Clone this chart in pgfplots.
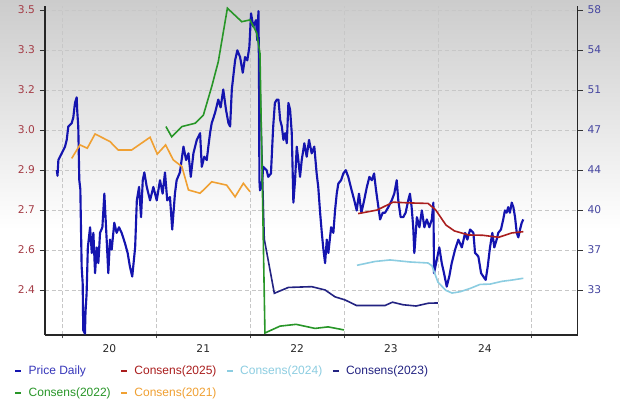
\documentclass[border=0pt]{standalone}
\usepackage{fontspec}
\setmainfont{Liberation Sans}
\newfontfamily\tickfont{DejaVu Sans}
\usepackage{pgfplots}
\pgfplotsset{compat=1.18}
\usetikzlibrary{backgrounds}
\definecolor{pricecol}{RGB}{20,20,175}
\definecolor{cA}{RGB}{170,30,30}
\definecolor{cB}{RGB}{140,205,225}
\definecolor{cC}{RGB}{35,35,130}
\definecolor{cD}{RGB}{40,150,40}
\definecolor{cE}{RGB}{240,160,50}
\definecolor{lefttick}{RGB}{165,60,70}
\definecolor{righttick}{RGB}{70,70,160}
\definecolor{xtickc}{RGB}{40,40,40}
\begin{document}
\begin{tikzpicture}
\begin{axis}[
  name=price,
  scale only axis, width=399.4pt, height=246.75pt,
  xmin=2019.8135, xmax=2025.4875,
  ymin=28.982, ymax=58.357,
  axis x line*=bottom, axis y line*=right,
  axis line style={line width=1.1pt, color=black!85},
  xtick={2020.5,2021.5,2022.5,2023.5,2024.5},
  xticklabels={20,21,22,23,24},
  minor xtick={2020,2021,2022,2023,2024,2025},
  xminorgrids,
  major x tick style={draw=none},
  minor x tick style={black!70, line width=0.6pt},
  ytick={33,36.5714,40.1429,43.7143,47.2857,50.8571,54.4286,58},
  yticklabels={33,37,40,44,47,51,54,58},
  minor y tick num=4,
  ymajorgrids,
  grid style={densely dashed, black!22, line width=0.4pt},
  minor grid style={densely dashed, black!22, line width=0.4pt},
  tick align=outside,
  major tick length=4pt, minor tick length=2.5pt,
  y tick style={black!80, line width=0.6pt},
  x tick label style={font=\tickfont\fontsize{8}{9}\selectfont, text=xtickc},
  y tick label style={font=\tickfont\fontsize{8}{9}\selectfont, text=righttick},
]
\addplot[pricecol, line width=1.6pt, line join=round] coordinates {
(2019.939,43.7) (2019.947,43.2) (2019.956,44.6) (2019.992,45.2) (2020.027,45.8)
(2020.045,46.4) (2020.062,47.6) (2020.098,47.9) (2020.115,48.4) (2020.133,49.7)
(2020.151,50.2) (2020.157,49.0) (2020.168,47.6) (2020.179,42.8) (2020.190,42.0)
(2020.204,35.1) (2020.215,33.6) (2020.221,29.4) (2020.239,29.1) (2020.245,31.0)
(2020.257,32.7) (2020.270,36.8) (2020.294,38.6) (2020.312,36.3) (2020.329,38.1)
(2020.347,34.5) (2020.365,36.8) (2020.382,35.4) (2020.400,38.1) (2020.425,38.6)
(2020.446,41.6) (2020.464,38.6) (2020.488,34.5) (2020.506,37.5) (2020.524,36.6)
(2020.552,39.0) (2020.577,38.1) (2020.602,38.6) (2020.630,38.1) (2020.665,37.2)
(2020.694,36.3) (2020.718,35.1) (2020.743,34.2) (2020.774,36.8) (2020.792,41.0)
(2020.816,42.2) (2020.837,39.5) (2020.855,42.8) (2020.872,43.5) (2020.898,42.2)
(2020.933,41.0) (2020.968,42.2) (2021.004,41.0) (2021.039,42.8) (2021.067,41.6)
(2021.092,43.5) (2021.116,41.0) (2021.145,41.3) (2021.169,38.4) (2021.198,41.6)
(2021.216,42.8) (2021.251,43.5) (2021.289,45.8) (2021.317,44.6) (2021.342,45.2)
(2021.367,43.1) (2021.395,45.2) (2021.431,46.4) (2021.466,47.0) (2021.484,44.0)
(2021.511,44.9) (2021.537,44.6) (2021.554,45.8) (2021.572,47.0) (2021.590,47.9)
(2021.625,48.8) (2021.660,50.0) (2021.685,49.3) (2021.713,50.9) (2021.742,49.1)
(2021.768,47.9) (2021.786,47.6) (2021.804,50.9) (2021.839,53.5) (2021.863,54.4)
(2021.892,53.8) (2021.921,52.4) (2021.945,53.8) (2021.969,53.5) (2021.991,54.7)
(2022.009,57.7) (2022.033,56.5) (2022.062,57.1) (2022.075,55.3) (2022.088,57.9)
(2022.094,52.0) (2022.098,42.8) (2022.104,41.9) (2022.122,42.2) (2022.139,44.0)
(2022.175,43.7) (2022.192,43.1) (2022.221,43.4) (2022.245,47.6) (2022.263,49.7)
(2022.284,50.0) (2022.301,50.0) (2022.319,48.2) (2022.337,47.6) (2022.354,46.4)
(2022.372,47.0) (2022.390,46.1) (2022.407,49.7) (2022.425,49.1) (2022.443,47.0)
(2022.460,40.8) (2022.478,42.8) (2022.496,45.8) (2022.513,44.6) (2022.531,43.1)
(2022.549,44.6) (2022.577,46.1) (2022.602,44.9) (2022.627,46.4) (2022.655,45.2)
(2022.683,45.8) (2022.708,43.4) (2022.725,42.2) (2022.745,39.9) (2022.763,38.1)
(2022.780,36.6) (2022.798,35.4) (2022.816,37.5) (2022.833,36.3) (2022.862,38.6)
(2022.886,38.1) (2022.904,40.1) (2022.922,41.6) (2022.939,42.5) (2022.968,42.8)
(2022.992,43.4) (2023.018,43.7) (2023.045,43.1) (2023.081,41.9) (2023.109,41.0)
(2023.135,40.1) (2023.159,41.6) (2023.185,39.9) (2023.214,41.0) (2023.243,42.2)
(2023.270,43.1) (2023.296,42.8) (2023.320,43.4) (2023.341,41.9) (2023.366,40.4)
(2023.384,39.3) (2023.412,39.9) (2023.437,39.9) (2023.472,40.4) (2023.508,41.0)
(2023.535,41.6) (2023.561,42.8) (2023.578,41.0) (2023.603,39.5) (2023.631,39.5)
(2023.656,39.9) (2023.684,41.0) (2023.702,41.6) (2023.720,40.4) (2023.737,38.6)
(2023.749,36.3) (2023.776,39.5) (2023.803,38.6) (2023.829,40.1) (2023.856,38.6)
(2023.882,39.3) (2023.909,38.6) (2023.935,39.3) (2023.952,40.8) (2023.959,34.5)
(2023.988,35.7) (2024.015,36.8) (2024.041,35.4) (2024.065,34.5) (2024.094,33.3)
(2024.121,34.2) (2024.147,35.4) (2024.183,36.6) (2024.218,37.5) (2024.255,36.8)
(2024.290,38.1) (2024.314,37.5) (2024.343,38.4) (2024.378,38.1) (2024.396,36.3)
(2024.431,36.0) (2024.460,34.5) (2024.484,34.2) (2024.509,33.9) (2024.531,35.1)
(2024.555,36.8) (2024.580,38.1) (2024.601,36.8) (2024.626,37.5) (2024.643,38.1)
(2024.672,38.4) (2024.696,39.3) (2024.714,40.1) (2024.732,39.9) (2024.749,40.4)
(2024.767,39.9) (2024.787,40.8) (2024.804,40.4) (2024.822,39.5) (2024.840,38.1)
(2024.857,37.7) (2024.875,38.4) (2024.893,39.0) (2024.910,39.3)
};
\end{axis}
\begin{axis}[
  scale only axis, width=399.4pt, height=246.75pt,
  xmin=2019.8135, xmax=2025.4875,
  ymin=2.2232, ymax=3.5157,
  axis x line=none, axis y line*=left,
  xtick=\empty,
  axis line style={line width=1.1pt, color=black!85},
  ytick={2.4,2.55714,2.71429,2.87143,3.02857,3.18571,3.34286,3.5},
  yticklabels={2.4,2.6,2.7,2.9,3.0,3.2,3.3,3.5},
  tick align=outside, major tick length=4pt,
  y tick style={black!80, line width=0.6pt},
  y tick label style={font=\tickfont\fontsize{8}{9}\selectfont, text=lefttick},
  legend columns=4,
  legend cell align=left,
  legend image code/.code={\draw[line width=1.8pt] (0pt,0pt) -- (4.5pt,0pt);},
  legend style={draw=none, fill=none, at={(-0.0582,-0.085)}, anchor=north west,
    font=\fontsize{9}{10}\selectfont, inner sep=0pt, row sep=4.5pt,
    /tikz/every odd column/.append style={column sep=2.5pt},
    /tikz/every even column/.append style={column sep=5pt}},
]
\addlegendimage{pricecol, line width=1.8pt}
\addlegendentry[text=pricecol!85]{Price Daily}
\addplot[cA, line width=1.2pt] coordinates {
(2023.150,2.700) (2023.352,2.714) (2023.522,2.745) (2023.702,2.742) (2023.895,2.740)
(2023.975,2.715) (2024.086,2.655) (2024.176,2.632) (2024.327,2.616) (2024.477,2.615)
(2024.647,2.607) (2024.787,2.624) (2024.910,2.629)
};
\addlegendentry[text=cA]{Consens(2025)}
\addplot[cB, line width=1.2pt] coordinates {
(2023.138,2.497) (2023.330,2.512) (2023.490,2.518) (2023.702,2.510) (2023.895,2.506)
(2023.937,2.495) (2024.001,2.430) (2024.087,2.398) (2024.151,2.388) (2024.236,2.393)
(2024.343,2.406) (2024.450,2.422) (2024.555,2.423) (2024.683,2.434) (2024.790,2.439)
(2024.910,2.446)
};
\addlegendentry[text=cB]{Consens(2024)}
\addplot[cC, line width=1.2pt] coordinates {
(2022.105,3.20) (2022.150,2.60) (2022.257,2.387) (2022.407,2.410) (2022.655,2.413)
(2022.798,2.400) (2022.904,2.373) (2023.010,2.361) (2023.133,2.339) (2023.436,2.339)
(2023.516,2.352) (2023.628,2.342) (2023.767,2.337) (2023.899,2.348) (2024.000,2.349)
};
\addlegendentry[text=cC]{Consens(2023)}
\addplot[cD, line width=1.2pt] coordinates {
(2021.102,3.042) (2021.163,3.002) (2021.272,3.042) (2021.413,3.055) (2021.501,3.087)
(2021.590,3.199) (2021.660,3.297) (2021.757,3.507) (2021.910,3.454) (2021.998,3.461)
(2022.069,3.410) (2022.104,3.330) (2022.125,2.900) (2022.157,2.231) (2022.318,2.258)
(2022.489,2.265) (2022.690,2.249) (2022.830,2.255) (2023.000,2.243)
};
\addlegendentry[text=cD]{Consens(2022)}
\addplot[cE, line width=1.2pt] coordinates {
(2020.098,2.917) (2020.186,2.970) (2020.264,2.957) (2020.347,3.013) (2020.506,2.983)
(2020.594,2.950) (2020.737,2.950) (2020.933,3.000) (2021.010,2.934) (2021.099,2.970)
(2021.180,2.911) (2021.272,2.885) (2021.342,2.793) (2021.466,2.780) (2021.590,2.825)
(2021.749,2.812) (2021.839,2.766) (2021.927,2.819) (2021.998,2.786)
};
\addlegendentry[text=cE]{Consens(2021)}
\end{axis}
\begin{scope}[on background layer]
\fill[white] ([xshift=-33.75pt,yshift=-46.5pt]price.south west) rectangle ([xshift=31.875pt,yshift=4.5pt]price.north east);
\shade[top color=black!20, bottom color=white] ([xshift=-33.75pt,yshift=4.5pt]price.north west) rectangle ([xshift=31.875pt,yshift=-168pt]price.north east);
\end{scope}
\end{tikzpicture}
\end{document}
